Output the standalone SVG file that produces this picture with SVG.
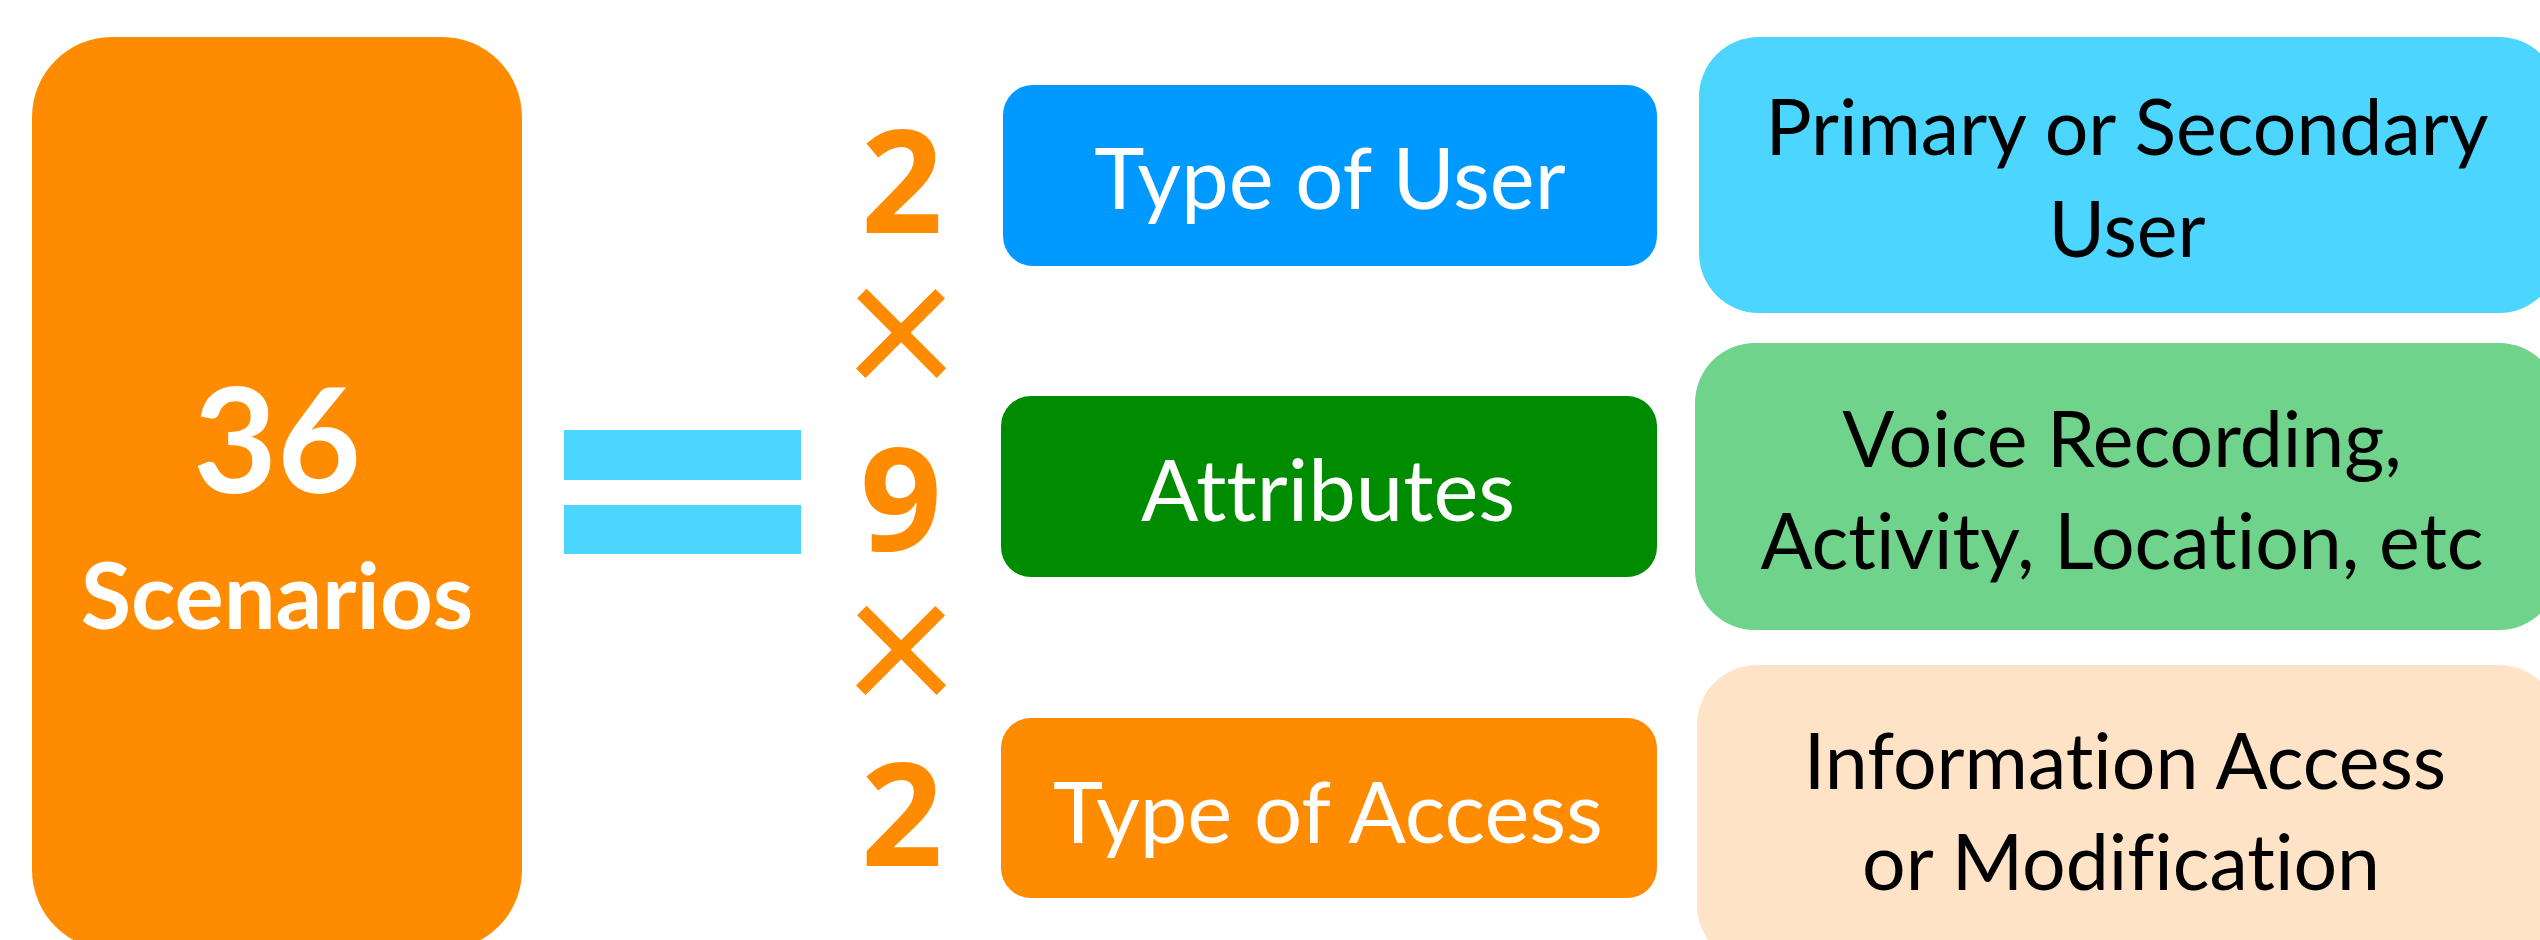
<svg xmlns="http://www.w3.org/2000/svg" width="2540" height="940" viewBox="0 0 2540 940">
<style>
text{font-variant-ligatures:none;font-feature-settings:"liga" 0}
.b{font-family:Lato,"Open Sans","Liberation Sans",sans-serif;font-weight:700}
.r{font-family:Lato,"Open Sans","Liberation Sans",sans-serif;font-weight:400}
.d{font-family:"Open Sans",Lato,"Liberation Sans",sans-serif;font-weight:700;font-size:143px}
.w{fill:#FFFFFF}
.k{fill:#000000}
.o{fill:#FF8C00}
.mid{font-size:85px}
.rt{font-size:77px}
.x{font-size:200px}
</style>
<rect width="2540" height="940" fill="#FFFFFF"/>
<g id="total">
<rect x="32" y="37" width="490" height="913" rx="80" ry="80" fill="#FF8C00"/>
<text class="b w" x="277" y="493" font-size="145" text-anchor="middle">36</text>
<text class="b w" x="277" y="629" font-size="92" text-anchor="middle">Scenarios</text>
</g>
<g id="operators">
<rect x="564" y="430" width="237" height="50" fill="#4BD5FF"/>
<rect x="564" y="505" width="237" height="49" fill="#4BD5FF"/>
<text class="d o" x="902" y="233" text-anchor="middle">2</text>
<text class="r o x" x="901" y="400" text-anchor="middle">×</text>
<text class="d o" x="901" y="551" text-anchor="middle">9</text>
<text class="r o x" x="901" y="717" text-anchor="middle">×</text>
<text class="d o" x="902" y="866" text-anchor="middle">2</text>
</g>
<g id="type-of-user">
<rect x="1003" y="85" width="654" height="181" rx="30" ry="30" fill="#0099FF"/>
<text class="r w mid" x="1330" y="209" text-anchor="middle">Type of User</text>
</g>
<g id="attributes">
<rect x="1001" y="396" width="656" height="181" rx="30" ry="30" fill="#008C00"/>
<text class="r w mid" x="1328" y="521" text-anchor="middle">Attributes</text>
</g>
<g id="type-of-access">
<rect x="1001" y="718" width="656" height="180" rx="30" ry="30" fill="#FF8C00"/>
<text class="r w mid" x="1328" y="843" text-anchor="middle">Type of Access</text>
</g>
<g id="user-detail">
<rect x="1699" y="37" width="860" height="276" rx="60" ry="60" fill="#4BD5FF"/>
<text class="r k rt" x="2127" y="155" text-anchor="middle">Primary or Secondary</text>
<text class="r k rt" x="2127" y="257" text-anchor="middle">User</text>
</g>
<g id="attributes-detail">
<rect x="1695" y="343" width="864" height="287" rx="60" ry="60" fill="#6FD38B"/>
<text class="r k rt" x="2122" y="467" text-anchor="middle">Voice Recording,</text>
<text class="r k rt" x="2122" y="569" text-anchor="middle">Activity, Location, etc</text>
</g>
<g id="access-detail">
<rect x="1697" y="665" width="862" height="300" rx="60" ry="60" fill="#FFE3C6"/>
<text class="r k rt" x="2125" y="789" text-anchor="middle">Information Access</text>
<text class="r k rt" x="2121" y="890" text-anchor="middle">or Modification</text>
</g>
<g id="connectors"></g>
</svg>
